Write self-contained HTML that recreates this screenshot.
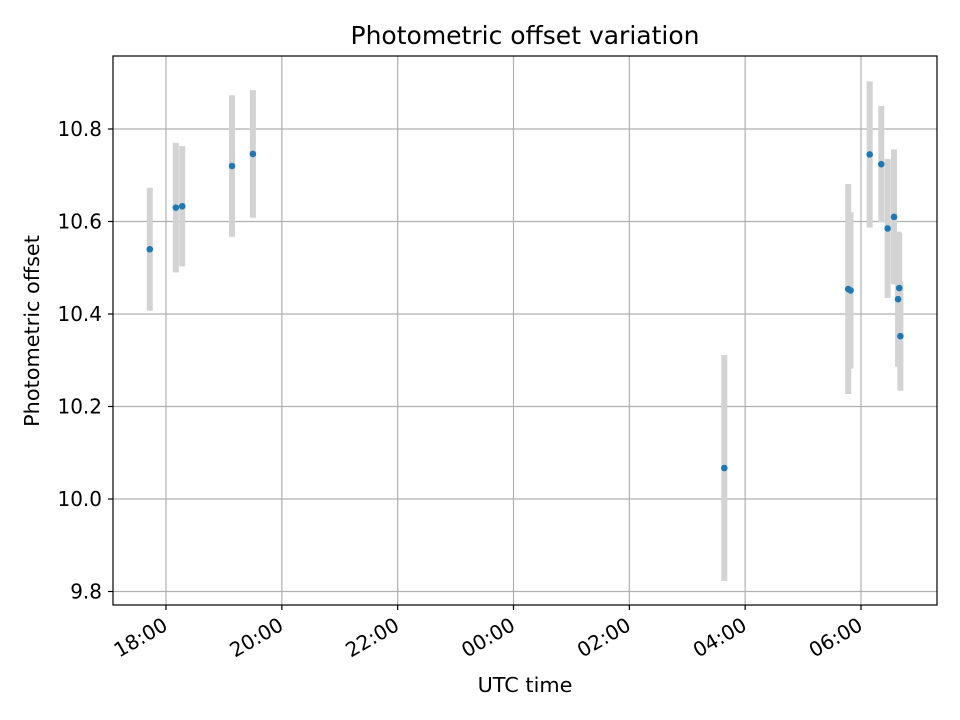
<!DOCTYPE html>
<html><head><meta charset="utf-8"><style>
html,body{margin:0;padding:0;background:#fff;}
svg{display:block;font-family:"DejaVu Sans","Liberation Sans",sans-serif;}
</style></head><body>
<svg id="chart" width="960" height="720" viewBox="0 0 960 720"></svg>
<script>
// hours since 00:00 of first day (values > 24 are next day)
const times = [17.72,18.17,18.28,19.14,19.50,27.64,29.78,29.82,30.15,30.35,30.46,30.57,30.64,30.66,30.68];
const offsets = [10.54,10.63,10.633,10.72,10.746,10.067,10.454,10.451,10.745,10.724,10.585,10.61,10.432,10.456,10.352];
const errors = [0.133,0.14,0.13,0.153,0.138,0.244,0.227,0.169,0.158,0.126,0.15,0.146,0.146,0.12,0.118];
const yTicks = [9.8,10.0,10.2,10.4,10.6,10.8];
const xTicks = [18,20,22,24,26,28,30];
const xTickLabels = ["18:00","20:00","22:00","00:00","02:00","04:00","06:00"];

const L=113,R=937,T=56,B=605;
const xs = h => 166 + (h-18)*(861-166)/12;
const ys = v => 499 - (v-10.0)*462.5;
const NS="http://www.w3.org/2000/svg";
const svg=document.getElementById('chart');
function mk(tag,attrs,parent){const e=document.createElementNS(NS,tag);for(const k in attrs)e.setAttribute(k,attrs[k]);(parent||svg).appendChild(e);return e;}

const grid=mk('g',{});


xTicks.forEach(t=>{mk('line',{x1:xs(t),x2:xs(t),y1:T,y2:B,stroke:'#b0b0b0','stroke-width':1.2},grid);});
yTicks.forEach(t=>{mk('line',{x1:L,x2:R,y1:ys(t),y2:ys(t),stroke:'#b0b0b0','stroke-width':1.2},grid);});

const eb=mk('g',{});


times.forEach((t,i)=>{
  const r=mk('rect',{x:xs(t)-3,y:ys(offsets[i]+errors[i]),width:6,height:ys(offsets[i]-errors[i])-ys(offsets[i]+errors[i]),fill:'#d3d3d3'},eb);
  
  
});
const pts=mk('g',{});


times.forEach((t,i)=>{
  const c=mk('circle',{cx:xs(t),cy:ys(offsets[i]),r:3.3,fill:'#1f77b4'},pts);
  
  
});

const frame=mk('rect',{x:L,y:T,width:R-L,height:B-T,fill:'none',stroke:'#000','stroke-width':1.2});



const xa=mk('g',{});


xTicks.forEach((t,i)=>{
  mk('line',{x1:xs(t),x2:xs(t),y1:B,y2:B+5,stroke:'#000','stroke-width':1.2},xa);
  const tx=mk('text',{x:xs(t)+3,y:B+24,'font-size':20,'text-anchor':'end',transform:`rotate(-30 ${xs(t)+3} ${B+24})`},xa);
  
  
  tx.textContent=xTickLabels[i];
});
const ya=mk('g',{});


yTicks.forEach(t=>{
  mk('line',{x1:L-5,x2:L,y1:ys(t),y2:ys(t),stroke:'#000','stroke-width':1.2},ya);
  const tx=mk('text',{x:L-11,y:ys(t)+7,'font-size':20,'text-anchor':'end'},ya);
  
  
  tx.textContent=t.toFixed(1);
});

const xt=mk('text',{x:525,y:692,'font-size':20.8,'text-anchor':'middle'});


xt.textContent='UTC time';
const yt=mk('text',{x:39,y:331,'font-size':20.8,'text-anchor':'middle',transform:'rotate(-90 39 331)'});


yt.textContent='Photometric offset';
const tt=mk('text',{x:525,y:44,'font-size':25,'text-anchor':'middle'});


tt.textContent='Photometric offset variation';
</script>
</body></html>
